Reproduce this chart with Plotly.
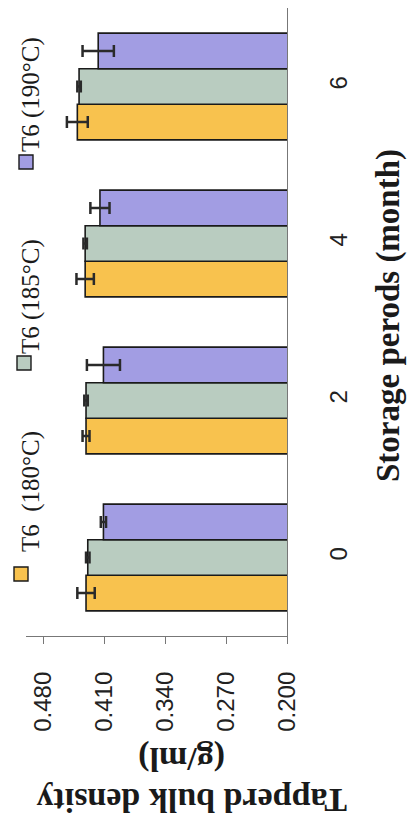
import plotly.graph_objects as go

# Storage period (months) and tapped bulk density (g/ml) for three T6 drying temperatures
periods = ["0", "2", "4", "6"]
series_names = ["T6 (180°C)", "T6 (185°C)", "T6 (190°C)"]
legend_labels = ["T6\u00a0 (180°C)", "T6 (185°C)", "T6 (190°C)"]
density_180 = [0.431, 0.431, 0.432, 0.441]
density_185 = [0.429, 0.431, 0.432, 0.439]
density_190 = [0.411, 0.411, 0.415, 0.417]
err_180 = [0.010, 0.004, 0.010, 0.012]
err_185 = [0.002, 0.002, 0.002, 0.002]
err_190 = [0.003, 0.019, 0.011, 0.018]
value_ticks = [0.200, 0.270, 0.340, 0.410, 0.480]
value_tick_text = ["0.200", "0.270", "0.340", "0.410", "0.480"]

colors = ["#F8C24E", "#B9CCC0", "#A29DE3"]

W, H = 410, 820
L, R, T, B = 26, 123, 8, 184
PW, PH = W - L - R, H - T - B


def px_x(px):
    return (px - L) / PW


def px_y(py):
    return (H - B - py) / PH


fig = go.Figure()
for name, vals, errs, col in zip(series_names,
                                 [density_180, density_185, density_190],
                                 [err_180, err_185, err_190], colors):
    fig.add_trace(go.Bar(
        y=periods, x=vals, base=0, orientation="h", name=name,
        marker=dict(color=col, line=dict(color="#1a1a1a", width=1.6)),
        error_x=dict(type="data", array=errs, visible=True,
                     color="#2a2a2a", thickness=2.5, width=6),
        showlegend=False,
    ))

serif = "Liberation Serif, Times New Roman, serif"
sans = "Liberation Sans, Arial, sans-serif"

# Legend drawn as rotated labels with small colour swatches
legend_sq = [(21, 574), (24, 363), (26, 162)]
legend_txt = [(31, 492), (31, 297), (31, 95)]
shapes = []
annotations = []
for lab, col, (sx, sy), (tx, ty) in zip(legend_labels, colors, legend_sq, legend_txt):
    shapes.append(dict(type="rect", xref="paper", yref="paper",
                       x0=px_x(sx - 7), x1=px_x(sx + 7),
                       y0=px_y(sy + 7), y1=px_y(sy - 7),
                       fillcolor=col, line=dict(color="#1a1a1a", width=1.4),
                       layer="above"))
    annotations.append(dict(text=lab, xref="paper", yref="paper",
                            x=px_x(tx), y=px_y(ty), xanchor="center",
                            yanchor="middle", showarrow=False, textangle=-90,
                            font=dict(family=serif, size=25, color="#1a1a1a")))

# Axis titles
annotations.append(dict(text="<b>Storage perods (month)</b>", xref="paper",
                        yref="paper", x=px_x(388), y=px_y(316),
                        xanchor="center", yanchor="middle", showarrow=False,
                        textangle=-90,
                        font=dict(family=serif, size=33, color="#1a1a1a")))
annotations.append(dict(text="<b>Tapperd bulk density</b>", xref="paper",
                        yref="paper", x=px_x(192), y=px_y(801),
                        xanchor="center", yanchor="middle", showarrow=False,
                        textangle=180,
                        font=dict(family=serif, size=34, color="#1a1a1a")))
annotations.append(dict(text="<b>(g/ml)</b>", xref="paper",
                        yref="paper", x=px_x(182), y=px_y(759),
                        xanchor="center", yanchor="middle", showarrow=False,
                        textangle=180,
                        font=dict(family=serif, size=34, color="#1a1a1a")))

fig.update_layout(
    width=W, height=H,
    margin=dict(l=L, r=R, t=T, b=B),
    paper_bgcolor="white", plot_bgcolor="white",
    barmode="group", bargap=0.32, bargroupgap=0,
    shapes=shapes, annotations=annotations,
    xaxis=dict(range=[0.5, 0.2], tickvals=value_ticks, ticktext=value_tick_text,
               tickangle=-90, ticks="outside", ticklen=7, tickcolor="#777",
               showline=True, linecolor="#777", linewidth=1.2,
               showgrid=False, zeroline=False, ticklabelstandoff=18,
               tickfont=dict(family=sans, size=24, color="#222")),
    yaxis=dict(categoryorder="array", categoryarray=periods, side="right",
               tickangle=-90, ticks="", showline=True, linecolor="#777",
               linewidth=1.2, showgrid=False, zeroline=False,
               ticklabelstandoff=30,
               tickfont=dict(family=sans, size=24, color="#222")),
)

fig.write_html("out.html")
